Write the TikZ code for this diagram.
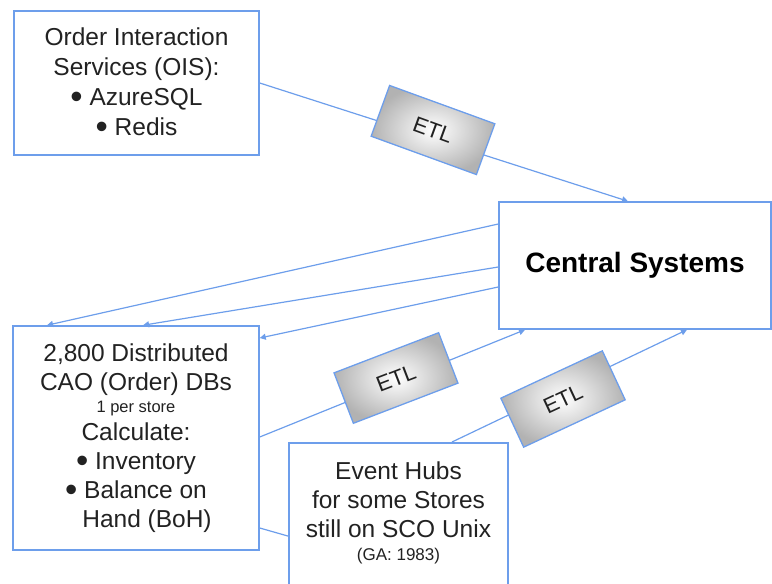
\documentclass[tikz,border=0pt]{standalone}
\usepackage{fontspec}
\setmainfont{Liberation Sans}
\usetikzlibrary{arrows.meta}
\definecolor{edgeblue}{HTML}{6D9EEB}
\definecolor{ink}{HTML}{222222}
% a slightly heavier list bullet
\newcommand{\listdot}{\raisebox{-3.5pt}{\fontsize{35}{29}\selectfont\textbullet}\ }
\begin{document}
\begin{tikzpicture}[x=1pt,y=-1pt,
  box/.style={draw=edgeblue,line width=1.5pt,fill=white,align=center,text=ink,
    inner sep=0pt,font=\fontsize{24.5}{29}\selectfont},
  etlbox/.style={draw=edgeblue,line width=1.3pt,shading=radial,inner color=white,
    outer color=black!30,minimum width=112pt,minimum height=54pt,inner sep=0pt,
    text=ink,font=\fontsize{22}{26}\selectfont},
  link/.style={draw=edgeblue,line width=1.2pt},
  flow/.style={link,-{Triangle[length=6pt,width=6pt]}}]
\useasboundingbox (0,0) rectangle (772,584);
\clip (0,0) rectangle (772,584);

% source and target boxes
\node[box,minimum width=245pt,minimum height=144pt,
  font=\fontsize{24.5}{30}\selectfont] (ois) at (136.5,83)
  {Order Interaction\\Services (OIS):\\\listdot AzureSQL\\\listdot Redis};
\node[box,minimum width=272pt,minimum height=127pt,
  font=\fontsize{28}{32}\bfseries] (cs) at (635,265.5)
  {\color{black}Central Systems};
\node[box,minimum width=246pt,minimum height=224pt] (cao) at (136,438)
  {2,800 Distributed\\CAO (Order) DBs\\[-7pt]
   {\fontsize{16.5}{20}\selectfont 1 per store}\\[-1pt]
   Calculate:\\\listdot Inventory\\\listdot Balance on\\
   \hspace*{22pt}Hand (BoH)};
\node[box,minimum width=219pt,anchor=north,inner ysep=19pt] (eh) at (398.5,442)
  {Event Hubs\\for some Stores\\still on SCO Unix\\[-6pt]
   {\fontsize{17}{20}\selectfont (GA: 1983)}\rule[-60pt]{0pt}{0pt}};

% connectors
\draw[flow] (ois.east) -- ([xshift=-7pt]cs.north);
\draw[flow] ([yshift=41.5pt]cs.west) -- ([xshift=-89pt]cao.north);
\draw[flow] ([yshift=-1.5pt]cs.west) -- ([xshift=7pt]cao.north);
\draw[flow] ([yshift=-21.5pt]cs.west) -- ([yshift=100pt]cao.east);
\draw[flow] ([yshift=1pt]cao.east) -- ([xshift=-110pt]cs.south);
\draw[link] ([yshift=-90pt]cao.east) -- ([yshift=5pt]eh.west);
\draw[flow] ([xshift=53.5pt]eh.north) -- ([xshift=52pt]cs.south);

% ETL stages sitting on the connectors
\node[etlbox,rotate=-20] (etl1) at (433,130) {ETL};
\node[etlbox,rotate=21] (etl2) at (396,378) {ETL};
\node[etlbox,rotate=25] (etl3) at (563,399) {ETL};
\end{tikzpicture}
\end{document}
